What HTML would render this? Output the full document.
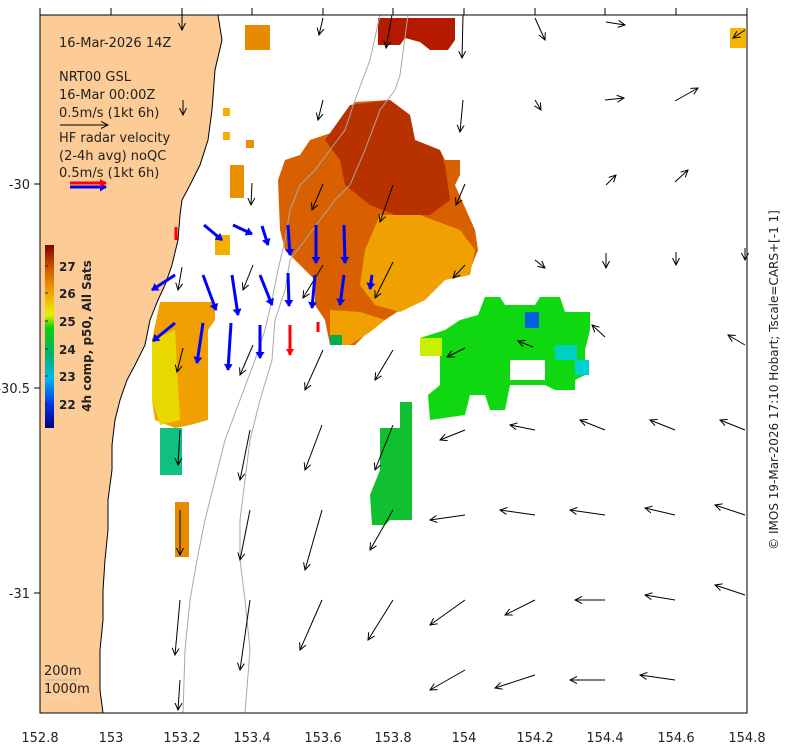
<!DOCTYPE html>
<html><head><meta charset="utf-8"><style>
body{margin:0;background:#fff;width:790px;height:750px;overflow:hidden;font-family:"DejaVu Sans","Liberation Sans",sans-serif}
</style></head><body>
<svg width="790" height="750" viewBox="0 0 790 750" xmlns="http://www.w3.org/2000/svg">
<defs>
<marker id="ah" markerWidth="8" markerHeight="8" refX="7" refY="4" orient="auto" markerUnits="userSpaceOnUse">
<path d="M0,0.5 L7,4 L0,7.5" fill="none" stroke="#000" stroke-width="1"/></marker>
<marker id="bh" markerWidth="10" markerHeight="10" refX="6" refY="5" orient="auto" markerUnits="userSpaceOnUse">
<path d="M0,0.5 L7,5 L0,9.5 Z" fill="#0000ff"/></marker>
<marker id="rh" markerWidth="10" markerHeight="10" refX="6" refY="5" orient="auto" markerUnits="userSpaceOnUse">
<path d="M0,1 L7,5 L0,9 Z" fill="#ff0000"/></marker>
<linearGradient id="cb" x1="0" y1="1" x2="0" y2="0">
<stop offset="0" stop-color="#000080"/><stop offset="0.12" stop-color="#0030e0"/>
<stop offset="0.27" stop-color="#00b8f0"/><stop offset="0.4" stop-color="#00b070"/>
<stop offset="0.55" stop-color="#10d010"/><stop offset="0.62" stop-color="#e8f000"/>
<stop offset="0.75" stop-color="#f0a000"/><stop offset="0.88" stop-color="#d05000"/>
<stop offset="1" stop-color="#800000"/></linearGradient>
</defs>
<path d="M40,15 L218,15 L222,40 L215,70 L212,110 L208,140 L200,165 L190,185 L182,200 L180,215 L178,240 L172,265 L165,285 L158,300 L150,320 L145,345 L135,365 L127,380 L120,400 L115,420 L112,445 L112,470 L108,500 L108,530 L105,560 L103,590 L103,620 L100,650 L100,690 L103,713 L40,713 Z" fill="#fccb96" stroke="#000" stroke-width="1"/>
<path d="M378,18 L455,18 L455,40 L448,50 L430,50 L420,42 L405,38 L400,45 L378,45 Z" fill="#b41a00"/>
<rect x="245" y="25" width="25" height="25" fill="#e88a00"/>
<rect x="730" y="28" width="16" height="20" fill="#f4b400"/>
<rect x="223" y="108" width="7" height="8" fill="#f4b000"/>
<rect x="223" y="132" width="7" height="8" fill="#f4b000"/>
<rect x="246" y="140" width="8" height="8" fill="#e89000"/>
<rect x="230" y="165" width="14" height="33" fill="#e89000"/>
<path d="M355,102 L390,100 L410,115 L415,140 L440,150 L445,160 L460,160 L460,175 L455,185 L475,230 L478,250 L470,270 L445,275 L425,300 L400,310 L385,320 L370,330 L355,345 L330,345 L325,320 L315,305 L315,280 L300,265 L285,250 L280,230 L278,180 L285,160 L300,155 L310,140 L340,130 L350,115 Z" fill="#d86000"/>
<path d="M350,105 L390,100 L410,115 L415,140 L440,150 L445,165 L450,200 L430,215 L395,215 L370,205 L345,185 L340,160 L325,140 Z" fill="#b83200"/>
<path d="M380,215 L420,215 L460,230 L475,250 L470,275 L445,280 L425,300 L400,312 L375,305 L360,285 L365,250 Z" fill="#f0a000"/>
<path d="M330,310 L360,312 L385,320 L370,332 L350,345 L330,345 Z" fill="#f0a000"/>
<rect x="330" y="335" width="12" height="10" fill="#00b050"/>
<path d="M160,302 L215,302 L215,320 L208,330 L208,420 L190,425 L175,428 L155,420 L152,400 L152,340 Z" fill="#f0a000"/>
<path d="M152,340 L175,330 L180,420 L160,425 L152,400 Z" fill="#e8d800"/>
<path d="M160,428 L182,428 L182,475 L160,475 Z" fill="#10c080"/>
<rect x="175" y="502" width="14" height="55" fill="#e88a00"/>
<rect x="215" y="235" width="15" height="20" fill="#f4b000"/>
<path d="M485,297 L500,297 L505,305 L535,305 L540,297 L560,297 L565,312 L590,312 L590,330 L585,350 L585,375 L575,380 L575,390 L555,390 L545,385 L510,385 L505,410 L490,410 L485,395 L470,395 L465,415 L430,420 L428,395 L440,385 L440,350 L420,355 L420,338 L445,330 L460,320 L478,315 Z" fill="#10d810"/>
<rect x="420" y="338" width="22" height="18" fill="#c8f000"/>
<rect x="525" y="312" width="14" height="16" fill="#0060e0"/>
<rect x="555" y="345" width="22" height="15" fill="#00d0c0"/>
<rect x="575" y="360" width="14" height="15" fill="#00d0d8"/>
<rect x="510" y="360" width="35" height="20" fill="#fff"/>
<path d="M380,428 L400,428 L400,402 L412,402 L412,520 L390,520 L385,525 L372,525 L370,495 L380,470 Z" fill="#10c030"/>
<polyline points="408,15 400,75 395,90 380,110 365,150 350,185 335,200 320,220 305,240 290,260 285,290 275,320 272,360 260,400 250,440 245,480 240,520 240,560 245,600 250,650 245,713" fill="none" stroke="#a8a8a8" stroke-width="1"/>
<polyline points="380,15 370,60 355,100 345,130 330,150 315,170 300,185 290,210 285,240 278,270 272,300 265,330 255,360 240,400 225,440 215,480 205,520 197,560 190,600 185,650 183,713" fill="none" stroke="#a8a8a8" stroke-width="1"/>
<g stroke="#000" stroke-width="1" marker-end="url(#ah)" fill="none">
<line x1="182" y1="15" x2="182" y2="30"/><line x1="323" y1="18" x2="319" y2="35"/><line x1="392" y1="15" x2="386" y2="48"/><line x1="463" y1="15" x2="462" y2="58"/><line x1="535" y1="18" x2="545" y2="40"/><line x1="606" y1="22" x2="625" y2="25"/><line x1="745" y1="30" x2="733" y2="38"/>
<line x1="183" y1="100" x2="183" y2="115"/><line x1="323" y1="100" x2="318" y2="120"/><line x1="463" y1="100" x2="460" y2="132"/><line x1="535" y1="100" x2="541" y2="110"/><line x1="605" y1="100" x2="624" y2="98"/><line x1="675" y1="101" x2="698" y2="88"/>
<line x1="252" y1="183" x2="251" y2="205"/><line x1="323" y1="184" x2="312" y2="210"/><line x1="393" y1="185" x2="380" y2="222"/><line x1="465" y1="184" x2="456" y2="205"/><line x1="606" y1="185" x2="616" y2="175"/><line x1="675" y1="182" x2="688" y2="170"/>
<line x1="182" y1="267" x2="178" y2="290"/><line x1="253" y1="265" x2="243" y2="290"/><line x1="323" y1="265" x2="303" y2="298"/><line x1="393" y1="262" x2="375" y2="298"/><line x1="465" y1="265" x2="453" y2="278"/><line x1="535" y1="260" x2="545" y2="268"/><line x1="606" y1="253" x2="606" y2="268"/><line x1="676" y1="252" x2="676" y2="265"/><line x1="745" y1="248" x2="745" y2="260"/>
<line x1="183" y1="348" x2="177" y2="372"/><line x1="253" y1="345" x2="240" y2="375"/><line x1="323" y1="350" x2="305" y2="390"/><line x1="393" y1="350" x2="375" y2="380"/><line x1="465" y1="348" x2="447" y2="357"/><line x1="533" y1="347" x2="518" y2="341"/><line x1="605" y1="337" x2="592" y2="325"/><line x1="745" y1="345" x2="728" y2="335"/>
<line x1="180" y1="430" x2="178" y2="465"/><line x1="250" y1="430" x2="240" y2="480"/><line x1="322" y1="425" x2="305" y2="470"/><line x1="393" y1="425" x2="375" y2="470"/><line x1="465" y1="430" x2="440" y2="440"/><line x1="535" y1="430" x2="510" y2="425"/><line x1="605" y1="430" x2="580" y2="420"/><line x1="675" y1="430" x2="650" y2="420"/><line x1="745" y1="430" x2="720" y2="420"/>
<line x1="180" y1="510" x2="180" y2="555"/><line x1="250" y1="510" x2="240" y2="560"/><line x1="322" y1="510" x2="305" y2="570"/><line x1="393" y1="510" x2="370" y2="550"/><line x1="465" y1="515" x2="430" y2="520"/><line x1="535" y1="515" x2="500" y2="510"/><line x1="605" y1="515" x2="570" y2="510"/><line x1="675" y1="515" x2="645" y2="508"/><line x1="745" y1="515" x2="715" y2="505"/>
<line x1="180" y1="600" x2="175" y2="655"/><line x1="250" y1="600" x2="240" y2="670"/><line x1="322" y1="600" x2="300" y2="650"/><line x1="393" y1="600" x2="368" y2="640"/><line x1="465" y1="600" x2="430" y2="625"/><line x1="535" y1="600" x2="505" y2="615"/><line x1="605" y1="600" x2="575" y2="600"/><line x1="675" y1="600" x2="645" y2="595"/><line x1="745" y1="595" x2="715" y2="585"/>
<line x1="180" y1="680" x2="178" y2="710"/><line x1="465" y1="670" x2="430" y2="690"/><line x1="535" y1="675" x2="495" y2="688"/><line x1="605" y1="680" x2="570" y2="680"/><line x1="675" y1="680" x2="640" y2="675"/>
<line x1="60" y1="125" x2="108" y2="125"/>
</g>
<g stroke="#0000ff" stroke-width="3" marker-end="url(#bh)" fill="none">
<line x1="204" y1="225" x2="222" y2="240"/><line x1="233" y1="225" x2="252" y2="234"/><line x1="262" y1="226" x2="268" y2="245"/><line x1="288" y1="225" x2="290" y2="255"/><line x1="316" y1="225" x2="316" y2="263"/><line x1="344" y1="225" x2="345" y2="263"/>
<line x1="175" y1="275" x2="152" y2="290"/><line x1="203" y1="275" x2="216" y2="310"/><line x1="232" y1="275" x2="238" y2="315"/><line x1="260" y1="275" x2="272" y2="305"/><line x1="288" y1="273" x2="289" y2="306"/><line x1="315" y1="275" x2="312" y2="308"/><line x1="344" y1="275" x2="340" y2="305"/><line x1="372" y1="275" x2="370" y2="289"/>
<line x1="175" y1="323" x2="153" y2="341"/><line x1="203" y1="323" x2="197" y2="363"/><line x1="231" y1="323" x2="228" y2="370"/><line x1="260" y1="325" x2="260" y2="358"/>
<line x1="70" y1="187" x2="106" y2="187"/>
</g>
<g stroke="#ff0000" stroke-width="3" fill="none">
<line x1="290" y1="325" x2="290" y2="355" marker-end="url(#rh)"/><line x1="318" y1="322" x2="318" y2="332"/><line x1="176" y1="227" x2="176" y2="240"/>
<line x1="70" y1="183" x2="106" y2="183" marker-end="url(#rh)"/>
</g>
<rect x="40" y="15" width="707" height="698" fill="none" stroke="#000" stroke-width="1"/>
<g stroke="#000" stroke-width="1">
<line x1="111" y1="15" x2="111" y2="8"/><line x1="182" y1="15" x2="182" y2="8"/><line x1="252" y1="15" x2="252" y2="8"/><line x1="323" y1="15" x2="323" y2="8"/><line x1="393" y1="15" x2="393" y2="8"/><line x1="464" y1="15" x2="464" y2="8"/><line x1="535" y1="15" x2="535" y2="8"/><line x1="605" y1="15" x2="605" y2="8"/><line x1="676" y1="15" x2="676" y2="8"/><line x1="40" y1="15" x2="40" y2="8"/><line x1="747" y1="15" x2="747" y2="8"/>
<line x1="40" y1="184" x2="34" y2="184"/><line x1="40" y1="388" x2="34" y2="388"/><line x1="40" y1="593" x2="34" y2="593"/>
</g>
<g font-size="13" fill="#222" text-anchor="middle">
<text x="40" y="742">152.8</text><text x="111" y="742">153</text><text x="182" y="742">153.2</text><text x="252" y="742">153.4</text><text x="323" y="742">153.6</text><text x="393" y="742">153.8</text><text x="464" y="742">154</text><text x="535" y="742">154.2</text><text x="605" y="742">154.4</text><text x="676" y="742">154.6</text><text x="747" y="742">154.8</text>
</g>
<g font-size="13" fill="#222" text-anchor="end">
<text x="30" y="189">-30</text><text x="30" y="393">-30.5</text><text x="30" y="598">-31</text>
</g>
<g font-size="13" fill="#222">
<text x="59" y="47">16-Mar-2026 14Z</text>
<text x="59" y="81">NRT00 GSL</text><text x="59" y="99">16-Mar 00:00Z</text><text x="59" y="117">0.5m/s (1kt 6h)</text>
<text x="59" y="142">HF radar velocity</text><text x="59" y="160">(2-4h avg) noQC</text><text x="59" y="177">0.5m/s (1kt 6h)</text>
<text x="44" y="675">200m</text><text x="44" y="693">1000m</text>
</g>
<line x1="44" y1="680" x2="78" y2="680" stroke="#bbb"/><line x1="44" y1="698" x2="78" y2="698" stroke="#ddd"/>
<rect x="45" y="245" width="9" height="183" fill="url(#cb)"/>
<g font-size="12" font-weight="bold" fill="#222">
<text x="59" y="271">27</text><text x="59" y="298">26</text><text x="59" y="326">25</text><text x="59" y="354">24</text><text x="59" y="381">23</text><text x="59" y="409">22</text>
</g>
<g stroke="#222"><line x1="45" y1="266" x2="48" y2="266"/><line x1="45" y1="293" x2="48" y2="293"/><line x1="45" y1="321" x2="48" y2="321"/><line x1="45" y1="349" x2="48" y2="349"/><line x1="45" y1="376" x2="48" y2="376"/><line x1="45" y1="404" x2="48" y2="404"/></g>
<text transform="translate(91,336) rotate(-90)" font-size="12" font-weight="bold" fill="#222" text-anchor="middle">4h comp, p50, All Sats</text>
<text transform="translate(778,380) rotate(-90)" font-size="12" fill="#222" text-anchor="middle">© IMOS 19-Mar-2026 17:10 Hobart; Tscale=CARS+[-1 1]</text>
</svg>
</body></html>
